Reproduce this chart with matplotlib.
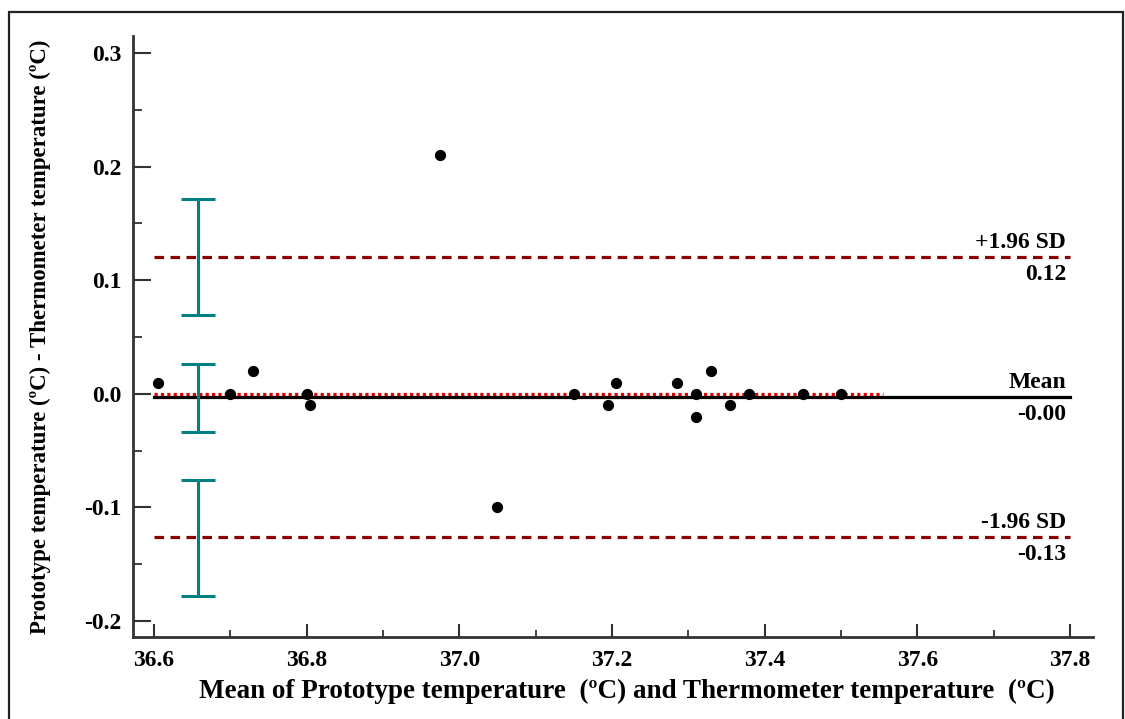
import matplotlib
matplotlib.use("Agg")
import matplotlib.pyplot as plt
from matplotlib.patches import Rectangle
from matplotlib.ticker import MultipleLocator

# Bland-Altman data
meanTemps = [36.605, 36.70, 36.73, 36.80, 36.805, 36.975, 37.05, 37.15, 37.195,
             37.205, 37.285, 37.31, 37.31, 37.33, 37.355, 37.38, 37.45, 37.50]
diffTemps = [0.01, 0.00, 0.02, 0.00, -0.01, 0.21, -0.10, 0.00, -0.01,
             0.01, 0.01, -0.02, 0.00, 0.02, -0.01, 0.00, 0.00, 0.00]

meanDiff = -0.0026
upperLoa = 0.1206
lowerLoa = -0.1257

# confidence intervals (low, high) for upper LoA, mean, lower LoA
ciX = 36.658
ciUpper = (0.0696, 0.1716)
ciMean = (-0.0333, 0.0265)
ciLower = (-0.1776, -0.0755)

lineRange = (36.6, 37.8)
zeroLineRange = (36.6, 37.555)

plt.rcParams["font.family"] = ["Liberation Serif", "DejaVu Serif"]
plt.rcParams["font.weight"] = "bold"

fig = plt.figure(figsize=(11.25, 7.19), dpi=100)
ax = fig.add_axes([0.1182, 0.1140, 0.8533, 0.836])

# frame around the whole figure
fig.patches.append(Rectangle((0.008, -0.02), 0.990, 1.0033, transform=fig.transFigure,
                             fill=False, edgecolor="#222222", linewidth=1.6))

ax.plot(lineRange, [meanDiff, meanDiff], color="black", lw=2.3, zorder=2)
ax.plot(zeroLineRange, [0, 0], color="#dd0000", lw=2.3, dashes=(1, 1), zorder=3)
for v in (upperLoa, lowerLoa):
    ax.plot(lineRange, [v, v], color="#8b0000", lw=2.3, dashes=(3, 2), zorder=2)

for lo, hi in (ciUpper, ciMean, ciLower):
    ax.errorbar([ciX], [(lo + hi) / 2], yerr=[[(hi - lo) / 2], [(hi - lo) / 2]],
                fmt="none", ecolor="#008080", elinewidth=2.2, capsize=12.5,
                capthick=2.2, zorder=3)

ax.scatter(meanTemps, diffTemps, s=50, color="black", zorder=4)

labelX = 37.795
labelFont = dict(fontsize=17, fontweight="bold", ha="right")
for v, top in ((upperLoa, "+1.96 SD"), (meanDiff, "Mean"), (lowerLoa, "-1.96 SD")):
    ax.annotate(top, (labelX, v), xytext=(0, 3), textcoords="offset points",
                va="bottom", **labelFont)
    ax.annotate("%.2f" % v, (labelX, v), xytext=(0, -5), textcoords="offset points",
                va="top", **labelFont)

ax.set_xlim(36.5725, 37.830)
ax.set_ylim(-0.214, 0.315)
ax.xaxis.set_major_locator(MultipleLocator(0.2))
ax.xaxis.set_minor_locator(MultipleLocator(0.1))
ax.yaxis.set_major_locator(MultipleLocator(0.1))
ax.yaxis.set_minor_locator(MultipleLocator(0.05))
ax.xaxis.set_major_formatter(plt.FormatStrFormatter("%.1f"))
ax.yaxis.set_major_formatter(plt.FuncFormatter(lambda v, p: "%.1f" % v if abs(v) > 1e-9 else "0.0"))

for side in ("top", "right"):
    ax.spines[side].set_visible(False)
for side in ("left", "bottom"):
    ax.spines[side].set_linewidth(2.0)
    ax.spines[side].set_color("#333333")

ax.tick_params(axis="y", which="major", direction="in", length=13, width=1.5,
               color="#333333", pad=8, labelsize=17)
ax.tick_params(axis="y", which="minor", direction="in", length=6.5, width=1.3, color="#333333")
ax.tick_params(axis="x", which="major", direction="in", length=9.5, width=1.5,
               color="#333333", pad=9, labelsize=17)
ax.tick_params(axis="x", which="minor", direction="in", length=5, width=1.3, color="#333333")
for lbl in ax.get_xticklabels() + ax.get_yticklabels():
    lbl.set_fontweight("bold")

ax.set_xlabel("Mean of Prototype temperature  (ºC) and Thermometer temperature  (ºC)",
              fontsize=19.5, fontweight="bold")
ax.xaxis.set_label_coords(0.515, -0.07)
ax.set_ylabel("Prototype temperature (ºC) - Thermometer temperature (ºC)",
              fontsize=16.5, fontweight="bold", labelpad=24)

fig.savefig("out.png", dpi=100)
